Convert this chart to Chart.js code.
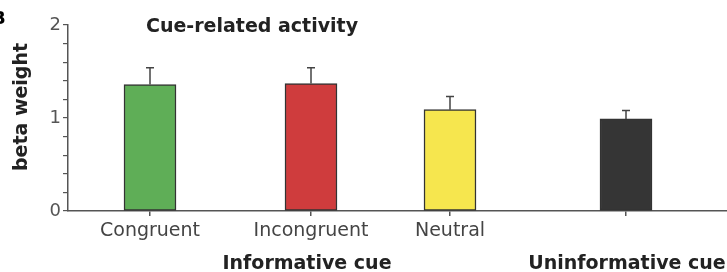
<!DOCTYPE html>
<html>
<head>
<meta charset="utf-8">
<script src="https://cdn.jsdelivr.net/npm/chart.js@4"></script>
<style>
  body { margin: 0; background: #fff; }
  canvas { display: block; }
</style>
</head>
<body>
<canvas id="myChart" width="727" height="272"></canvas>
<script>
'use strict';

// DATA
var categories = ['Congruent', 'Incongruent', 'Neutral', ''];
var values = [1.36, 1.37, 1.09, 0.99];
var errors = [0.18, 0.17, 0.14, 0.09];
var xPos = [0.82, 2.43, 3.82, 5.58];
var groupLabels = ['Informative cue', 'Uninformative cue'];
var groupPos = [2.39, 5.59];
var yTicks = [0, 1, 2];
var barColors = ['#5fae57', '#cf3c3d', '#f6e64e', '#353535'];

var FONT = "'DejaVu Sans', Verdana, sans-serif";

// EXTRA DRAWING (error bars + texts)
var extras = {
  id: 'extras',
  afterDatasetsDraw: function(chart) {
    var ctx = chart.ctx;
    var x = chart.scales.x;
    var y = chart.scales.y;
    ctx.save();
    // error bars (upper only)
    ctx.strokeStyle = '#444';
    ctx.lineWidth = 1.5;
    values.forEach(function(v, i) {
      var px = x.getPixelForValue(xPos[i]);
      var top = y.getPixelForValue(v + errors[i]);
      var base = y.getPixelForValue(v);
      ctx.beginPath();
      ctx.moveTo(px, base);
      ctx.lineTo(px, top);
      ctx.moveTo(px - 4, top);
      ctx.lineTo(px + 4, top);
      ctx.stroke();
    });
    // title
    ctx.fillStyle = '#222';
    ctx.font = 'bold 19px ' + FONT;
    ctx.textBaseline = 'middle';
    ctx.textAlign = 'left';
    ctx.fillText('Cue-related activity', 146, 27);
    // group labels
    ctx.textAlign = 'center';
    groupLabels.forEach(function(g, i) {
      ctx.fillText(g, x.getPixelForValue(groupPos[i]), 264);
    });
    // y title
    ctx.save();
    ctx.translate(22, 107);
    ctx.rotate(-Math.PI / 2);
    ctx.fillText('beta weight', 0, 0);
    ctx.restore();
    // panel letter
    ctx.fillStyle = '#000';
    ctx.font = 'bold 18px ' + FONT;
    ctx.textAlign = 'left';
    ctx.fillText('B', -8, 19);
    ctx.restore();
  }
};

var ctx = document.getElementById('myChart').getContext('2d');

var chart = new Chart(ctx, {
  type: 'bar',
  data: {
    datasets: [{
      data: values.map(function(v, i) { return { x: xPos[i], y: v }; }),
      backgroundColor: barColors,
      borderColor: '#333',
      borderWidth: 1.5,
      borderSkipped: false,
      barThickness: 52
    }]
  },
  options: {
    responsive: false,
    devicePixelRatio: 1,
    animation: false,
    layout: { padding: { top: 25, left: 0, right: 0, bottom: 0 } },
    plugins: {
      legend: { display: false },
      tooltip: { enabled: false }
    },
    scales: {
      x: {
        type: 'linear',
        min: 0,
        max: 6.59,
        offset: false,
        grid: { offset: false, drawOnChartArea: false, color: '#555', tickLength: 5, lineWidth: 1.5 },
        border: { display: true, color: '#555', width: 1.5 },
        afterBuildTicks: function(scale) {
          scale.ticks = xPos.map(function(p) { return { value: p }; });
        },
        afterFit: function(scale) { scale.height = 61; },
        ticks: {
          autoSkip: false,
          maxRotation: 0,
          padding: 4,
          color: '#444',
          font: { family: FONT, size: 19 },
          callback: function(v, i) { return categories[i]; }
        }
      },
      y: {
        min: 0,
        max: 2,
        grid: { drawOnChartArea: false, color: '#555', tickLength: 5, lineWidth: 1.2 },
        border: { display: true, color: '#555', width: 1.5 },
        afterFit: function(scale) { scale.width = 68; },
        ticks: {
          stepSize: 0.2,
          autoSkip: false,
          padding: 2,
          color: '#555',
          font: { family: FONT, size: 18 },
          callback: function(v) {
            var r = Math.round(v * 1000) / 1000;
            return yTicks.indexOf(r) >= 0 ? r : '';
          }
        }
      }
    }
  },
  plugins: [extras]
});
</script>
</body>
</html>
